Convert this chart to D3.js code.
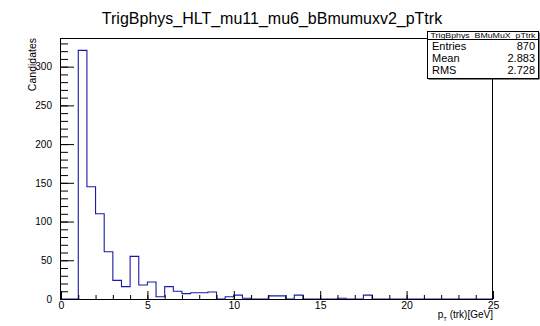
<!DOCTYPE html>
<html>
<head>
<meta charset="utf-8">
<script src="https://cdn.jsdelivr.net/npm/d3@7"></script>
<style>
  body { margin: 0; background: #fff; }
  svg { display: block; font-family: "Liberation Sans", Arial, sans-serif; }
</style>
</head>
<body>
<div id="chart"></div>
<script>
// histogram: 50 bins of 0.5 GeV from 0 to 25
const binLow = d3.range(0, 25, 0.5);
const counts = [
  0, 0, 321, 145, 110, 61, 24, 16, 55, 18,
  22, 3, 16, 10, 7, 8, 8, 9, 0, 3,
  5, 1, 0, 0, 4, 4, 0, 5, 0, 0,
  0, 0, 1, 0, 0, 5, 0, 0, 0, 0,
  0, 0, 0, 0, 0, 0, 0, 0, 0, 0
];
const binWidth = 0.5;
const xTicks = [0, 5, 10, 15, 20, 25];
const yTicks = [0, 50, 100, 150, 200, 250, 300];
const statNames = ['Entries', 'Mean', 'RMS'];
const statValues = ['870', '2.883', '2.728'];

const width = 540;
const height = 326;
const margin = { top: 38, right: 47, bottom: 27, left: 61 };

const svg = d3.select('#chart')
  .append('svg')
  .attr('width', width)
  .attr('height', height);

svg.append('rect').attr('width', width).attr('height', height).attr('fill', '#fff');

const x = d3.scaleLinear()
  .domain([0, 25])
  .range([margin.left, width - margin.right]);

const y = d3.scaleLinear()
  .domain([0, 337])
  .range([height - margin.bottom, margin.top]);

// histogram outline
const pts = [];
binLow.forEach((lo, i) => {
  pts.push([lo, counts[i]]);
  pts.push([lo + binWidth, counts[i]]);
});

svg.append('path')
  .datum(pts)
  .attr('fill', 'none')
  .attr('stroke', '#1a1aa6')
  .attr('stroke-width', 1.1)
  .attr('d', d3.line().x(d => x(d[0])).y(d => y(d[1])));

// axes
const xMinor = d3.axisBottom(x).tickValues(d3.range(0, 26, 1)).tickSize(-4).tickFormat('');
const xMajor = d3.axisBottom(x).tickValues(xTicks).tickSize(-8).tickPadding(3).tickFormat(d3.format('d'));
const yMinor = d3.axisLeft(y).tickValues(d3.range(0, 331, 10)).tickSize(-7).tickFormat('');
const yMajor = d3.axisLeft(y).tickValues(yTicks).tickSize(-13).tickPadding(9).tickFormat(d3.format('d'));

function styleAxis(g) {
  g.select('.domain').remove();
  g.selectAll('line').attr('stroke', '#000');
  g.selectAll('text').attr('fill', '#000').attr('font-size', '10.5px')
    .attr('font-family', '"Liberation Sans", Arial, sans-serif');
}

svg.append('g').attr('transform', `translate(0,${y(0)})`).call(xMinor).call(styleAxis);
svg.append('g').attr('transform', `translate(0,${y(0)})`).call(xMajor).call(styleAxis);
svg.append('g').attr('transform', `translate(${x(0)},0)`).call(yMinor).call(styleAxis);
svg.append('g').attr('transform', `translate(${x(0)},0)`).call(yMajor).call(styleAxis)
  .selectAll('text').attr('font-size', '10px');

// frame
svg.append('rect')
  .attr('x', x(0) - 0.5)
  .attr('y', y(337) + 0.5)
  .attr('width', x(25) - x(0))
  .attr('height', y(0) - y(337))
  .attr('fill', 'none')
  .attr('stroke', '#000');

// title
svg.append('text')
  .attr('x', 272)
  .attr('y', 24)
  .attr('text-anchor', 'middle')
  .attr('font-size', '16px')
  .text('TrigBphys_HLT_mu11_mu6_bBmumuxv2_pTtrk');

// axis titles
svg.append('text')
  .attr('transform', `translate(36,${y(337)}) rotate(-90)`)
  .attr('text-anchor', 'end')
  .attr('font-size', '10.5px')
  .text('Candidates');

const xt = svg.append('text')
  .attr('x', x(25))
  .attr('y', 318)
  .attr('text-anchor', 'end')
  .attr('font-size', '10px');
xt.append('tspan').text('p');
xt.append('tspan').attr('font-size', '6px').attr('dy', 3).text('T');
xt.append('tspan').attr('dy', -3).text(' (trk)[GeV]');

// stats box
const bx = 427, by = 31, bw = 111, bh = 47;
svg.append('rect').attr('x', bx + 1.5).attr('y', by + 1.5).attr('width', bw).attr('height', bh).attr('fill', '#000');
svg.append('rect').attr('x', bx + 0.5).attr('y', by + 0.5).attr('width', bw).attr('height', bh)
  .attr('fill', '#fff').attr('stroke', '#000');
svg.append('line').attr('x1', bx).attr('x2', bx + bw).attr('y1', by + 8.5).attr('y2', by + 8.5).attr('stroke', '#000');
svg.append('text')
  .attr('x', bx + bw / 2 + 0.5)
  .attr('y', by + 7)
  .attr('text-anchor', 'middle')
  .attr('font-size', '8px')
  .attr('textLength', bw - 6)
  .attr('lengthAdjust', 'spacingAndGlyphs')
  .text('TrigBphys_BMuMuX_pTtrk');

statNames.forEach((name, i) => {
  const yy = by + 19 + i * 12;
  svg.append('text').attr('x', bx + 5).attr('y', yy).attr('font-size', '11px').text(name);
  svg.append('text').attr('x', bx + bw - 3).attr('y', yy).attr('text-anchor', 'end')
    .attr('font-size', '11px').text(statValues[i]);
});
</script>
</body>
</html>
